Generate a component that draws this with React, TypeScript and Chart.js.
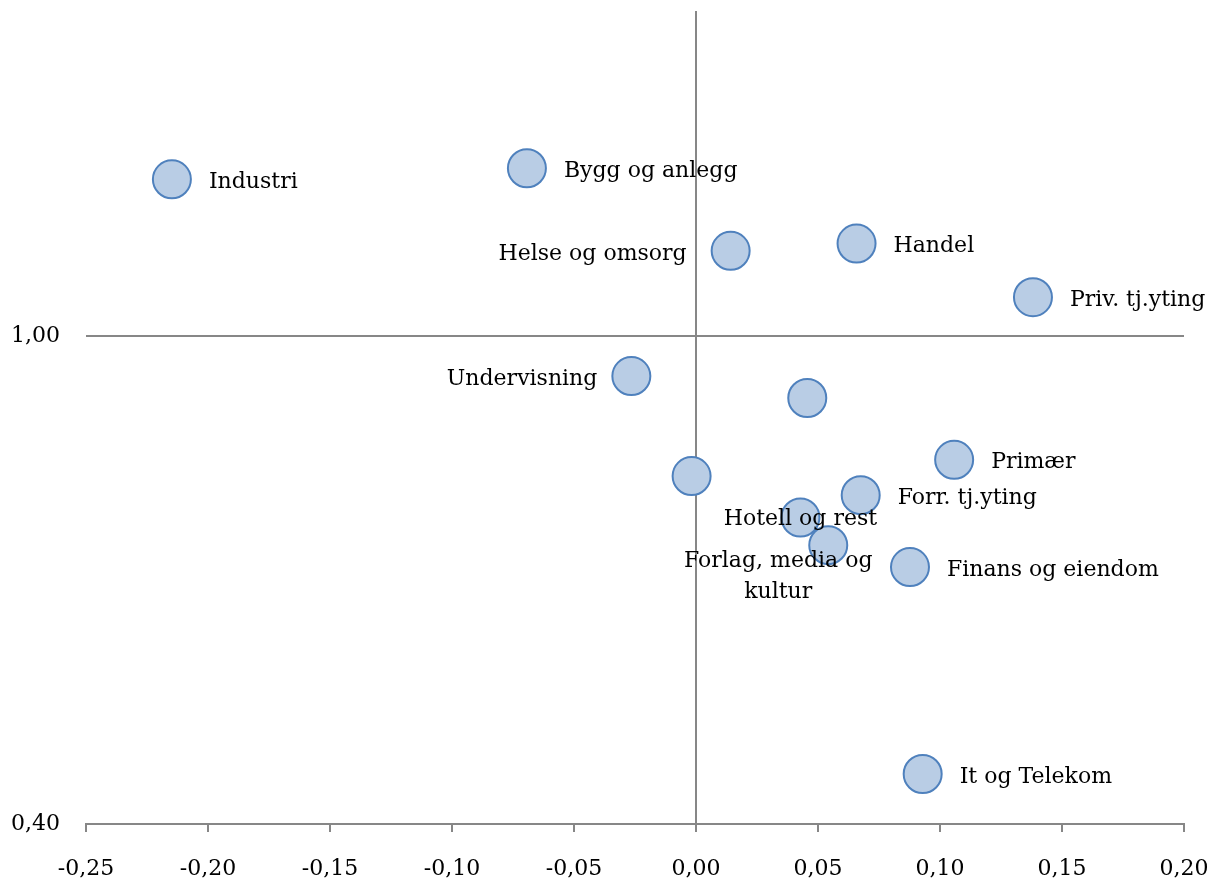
import React, { useEffect, useRef } from "react";
import { Chart, registerables } from "chart.js";

Chart.register(...registerables);

const labels: string[] = [
  "Industri",
  "Bygg og anlegg",
  "Helse og omsorg",
  "Handel",
  "Priv. tj.yting",
  "Undervisning",
  "",
  "Primær",
  "",
  "Forr. tj.yting",
  "Hotell og rest",
  "Forlag, media og\nkultur",
  "Finans og eiendom",
  "It og Telekom",
];

const xValues: number[] = [
  -0.2148, -0.0693, 0.0142, 0.0658, 0.1381, -0.0265, 0.0456, 0.1058, -0.0018,
  0.0675, 0.0428, 0.0542, 0.0877, 0.0929,
];

const yValues: number[] = [
  1.193, 1.2066, 1.105, 1.114, 1.048, 0.951, 0.924, 0.848, 0.828, 0.8045,
  0.777, 0.743, 0.716, 0.4615,
];

const yTickValues: number[] = [0.4, 1.0];

// label placement (style only)
type Place = { align: CanvasTextAlign; dx: number; dy: number };
const R: Place = { align: "left", dx: 37, dy: 3 };
const placements: Place[] = [
  R,
  R,
  { align: "right", dx: -44, dy: 3 },
  R,
  R,
  { align: "right", dx: -34, dy: 3 },
  R,
  R,
  R,
  R,
  { align: "center", dx: 0, dy: 2 },
  { align: "center", dx: -50, dy: 16 },
  R,
  R,
];

const FONT = '"DejaVu Serif", serif';
const FS = 22;
const AXIS = "#878787";
const LW = 2;

export default function App() {
  const ref = useRef<HTMLCanvasElement | null>(null);

  useEffect(() => {
    if (!ref.current) return;
    const labelPlugin = {
      id: "pointLabels",
      afterDatasetsDraw(chart: any) {
        const meta = chart.getDatasetMeta(0);
        const ctx = chart.ctx;
        ctx.save();
        ctx.font = `${FS}px ${FONT}`;
        ctx.fillStyle = "#000";
        ctx.textBaseline = "middle";
        meta.data.forEach((pt: any, i: number) => {
          const lab = labels[i];
          if (!lab) return;
          const p = placements[i];
          ctx.textAlign = p.align;
          lab.split("\n").forEach((ln, j) => {
            ctx.fillText(ln, pt.x + p.dx, pt.y + p.dy + j * 31);
          });
        });
        ctx.restore();
      },
    };

    const chart = new Chart(ref.current, {
      type: "scatter",
      data: {
        datasets: [
          {
            data: xValues.map((x, i) => ({ x, y: yValues[i] })),
            pointRadius: 19,
            pointHoverRadius: 19,
            backgroundColor: "#b9cde5",
            borderColor: "#4f81bd",
            borderWidth: 2,
            clip: false as any,
          },
        ],
      },
      options: {
        animation: false,
        responsive: true,
        maintainAspectRatio: false,
        layout: {
          autoPadding: false,
          padding: { left: 0, top: 3, right: 27, bottom: 0 },
        },
        plugins: {
          legend: { display: false },
          tooltip: { enabled: false },
        },
        scales: {
          x: {
            type: "linear",
            min: -0.25,
            max: 0.2,
            afterFit: (s: any) => {
              s.height = 55;
              s.paddingLeft = 0;
              s.paddingRight = 0;
            },
            ticks: {
              stepSize: 0.05,
              padding: 24,
              maxRotation: 0,
              color: "#000",
              font: { family: FONT, size: FS },
              callback: (v: any) =>
                Number(v).toFixed(2).replace(".", ",").replace("-0,00", "0,00"),
            },
            grid: {
              color: (c: any) =>
                c.tick && Math.abs(c.tick.value) < 1e-9 ? AXIS : "rgba(0,0,0,0)",
              tickColor: AXIS,
              tickLength: 8,
              lineWidth: LW,
            },
            border: { display: true, color: AXIS, width: LW },
          },
          y: {
            type: "linear",
            min: 0.4,
            max: 1.4,
            afterFit: (s: any) => {
              s.width = 78;
              s.paddingTop = 0;
              s.paddingBottom = 0;
            },
            afterBuildTicks: (s: any) => {
              s.ticks = yTickValues.map((v) => ({ value: v }));
            },
            ticks: {
              padding: 26,
              color: "#000",
              font: { family: FONT, size: FS },
              callback: (v: any) => Number(v).toFixed(2).replace(".", ","),
            },
            grid: {
              color: (c: any) =>
                c.tick && Math.abs(c.tick.value - 1) < 1e-9 ? AXIS : "rgba(0,0,0,0)",
              drawTicks: false,
              lineWidth: LW,
            },
            border: { display: false },
          },
        },
      },
      plugins: [labelPlugin],
    });
    return () => chart.destroy();
  }, []);

  return (
    <div style={{ width: 1203, height: 871, position: "relative" }}>
      <canvas ref={ref} />
    </div>
  );
}
